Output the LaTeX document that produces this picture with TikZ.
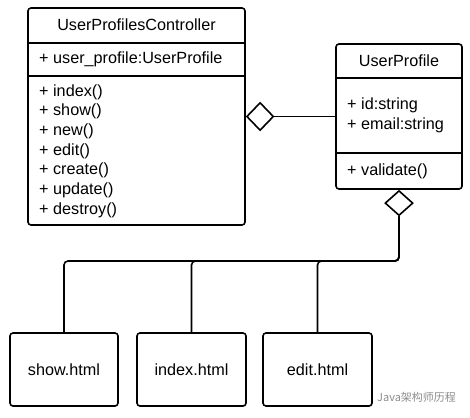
\documentclass[tikz,border=0pt]{standalone}
\usepackage{fontspec}
\setmainfont{Liberation Sans}
\newfontfamily\cjk{Noto Sans CJK SC}
\usetikzlibrary{shapes.geometric}
\begin{document}
\begin{tikzpicture}[x=1pt,y=-1pt,
  umlbox/.style={draw, line width=1.6pt, rounded corners=3pt, inner sep=0pt},
  divider/.style={line width=1.6pt},
  txt/.style={font=\fontsize{16.2}{19.7}\selectfont, inner sep=0pt},
  lefttxt/.style={txt, anchor=west, align=left},
  agg/.style={diamond, draw, fill=white, inner sep=0pt, line width=1.6pt},
  conn/.style={line width=1.6pt, rounded corners=4pt}]
\useasboundingbox (0,0) rectangle (470,417);
% controller
\node[umlbox, minimum width=217pt, minimum height=217pt] (ctrl) at (136.5,116.5) {};
\draw[divider] (28,43) -- (245,43);
\draw[divider] (28,76) -- (245,76);
\node[txt] (ctrlT) at (136.5,24.5) {UserProfilesController};
\node[lefttxt] (ctrlA) at (39,59) {+ user\_profile:UserProfile};
\node[lefttxt] (ctrlM) at (39,151) {+ index()\\+ show()\\+ new()\\+ edit()\\+ create()\\+ update()\\+ destroy()};
% user profile
\node[umlbox, minimum width=126pt, minimum height=145pt] (up) at (399,116.5) {};
\draw[divider] (336,78) -- (462,78);
\draw[divider] (336,153) -- (462,153);
\node[txt] (upT) at (399,60.5) {UserProfile};
\node[lefttxt] (upA) at (347,115.5) {+ id:string\\+ email:string};
\node[lefttxt] (upM) at (347,171) {+ validate()};
% views
\node[umlbox, minimum width=108pt, minimum height=73pt, txt] (show) at (64,369.5) {show.html};
\node[umlbox, minimum width=109pt, minimum height=73pt, txt] (index) at (191.5,369.5) {index.html};
\node[umlbox, minimum width=109pt, minimum height=73pt, txt] (edit) at (317.5,369.5) {edit.html};
% aggregation diamonds
\node[agg, anchor=west, minimum width=27pt, minimum height=28pt] (d1) at (ctrl.east) {};
\draw[conn] (d1.east) -- (up.west);
\node[agg, anchor=north, minimum width=28pt, minimum height=25pt] (d2) at (up.south) {};
\coordinate (bus) at (399,261);
\draw[conn] (d2.south) -- (bus) -| (show.north);
\draw[conn] (d2.south) -- (bus) -| (index.north);
\draw[conn] (d2.south) -- (bus) -| (edit.north);
% watermark
\node[font=\cjk\fontsize{11}{13}\selectfont, text=black!45, anchor=west, inner sep=0pt] (wm) at (377,397) {Java架构师历程};
\end{tikzpicture}
\end{document}
